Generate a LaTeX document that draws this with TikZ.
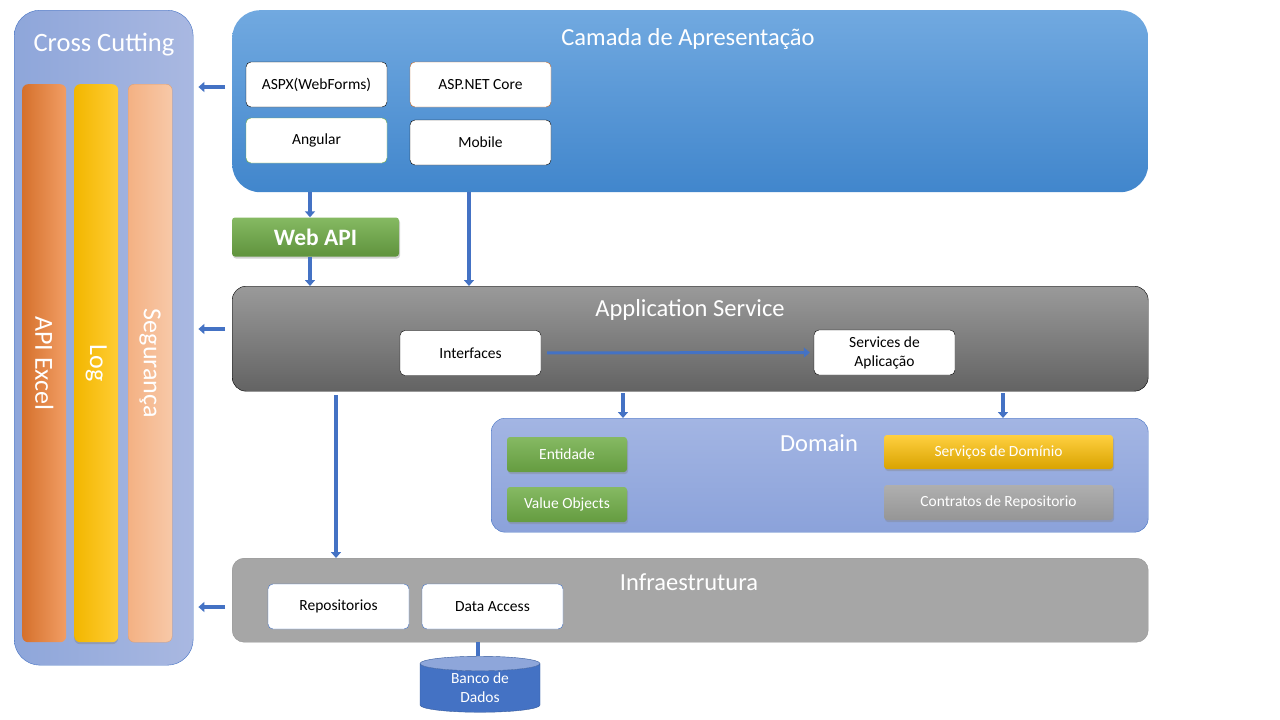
\documentclass[tikz,border=0pt]{standalone}
\usepackage{fontspec}
\setmainfont{Carlito}
\usetikzlibrary{calc, shapes.geometric, arrows.meta, positioning, shadows}
\definecolor{arqblue}{HTML}{4472C4}
\definecolor{ccleft}{HTML}{8EA6DA}
\definecolor{ccright}{HTML}{A9B8E1}
\definecolor{camtop}{HTML}{71A9E0}
\definecolor{cambot}{HTML}{4186CC}
\definecolor{apptop}{HTML}{9A9A9A}
\definecolor{appbot}{HTML}{636363}
\definecolor{domtop}{HTML}{A3B5E3}
\definecolor{dombot}{HTML}{8BA2DA}
\definecolor{infragray}{HTML}{A6A6A6}
\definecolor{boxgreen}{HTML}{70AD47}
\definecolor{boxorange}{HTML}{ED7D31}
\definecolor{boxyellow}{HTML}{FFC000}
\definecolor{boxsalmon}{HTML}{F4B183}

\begin{document}
\begin{tikzpicture}[x=1pt, y=-1pt,
    layer/.style={anchor=north west, inner sep=0pt},
    title/.style={text=white, font=\fontsize{24.5}{28}\selectfont},
    box/.style={draw=black, fill=white, rounded corners=5pt, minimum width=141pt,
        minimum height=45pt, align=center, font=\fontsize{15.5}{18}\selectfont},
    solid/.style={rounded corners=3pt, text=white, align=center,
        font=\fontsize{15.5}{18}\selectfont,
        drop shadow={opacity=0.35, shadow xshift=1pt, shadow yshift=-2pt}},
    colbar/.style={layer, minimum width=44pt, minimum height=558pt, rounded corners=6pt},
    coltext/.style={text=white, rotate=-90, font=\fontsize{26}{30}\selectfont},
    flow/.style={draw=arqblue, line width=3.6pt, -{Triangle[width=10pt,length=6pt]}}]

    % page
    \fill[white] (0,0) rectangle (1280,720);
    \useasboundingbox (0,0) rectangle (1280,720);

    % Cross Cutting
    \node[layer, minimum width=179pt, minimum height=655pt, rounded corners=26pt,
        draw=arqblue, left color=ccleft, right color=ccright] (cross) at (14,10) {};
    \node[title, font=\fontsize{26.5}{30}\selectfont] (crosstitle) at (104,45) {Cross Cutting};
    \node[colbar, left color=boxorange!90!black, right color=boxorange!75!white] (excel) at (22,84) {};
    \node[colbar, left color=boxyellow!95!black, right color=boxyellow!80!white,
        drop shadow={opacity=0.4, shadow xshift=0pt, shadow yshift=-2pt}] (log) at (74,84) {};
    \node[colbar, draw=boxsalmon!90!black, left color=boxsalmon, right color=boxsalmon!70!white] (seg) at (128,84) {};
    \node[coltext] (exceltext) at (excel.center) {API Excel};
    \node[coltext] (logtext) at (log.center) {Log};
    \node[coltext] (segtext) at (seg.center) {Segurança};

    % Camada de Apresentacao
    \node[layer, minimum width=916pt, minimum height=182pt, rounded corners=28pt,
        top color=camtop, bottom color=cambot] (cam) at (232,10) {};
    \node[title] (camtitle) at (688,39) {Camada de Apresentação};
    \node[box] (aspx) at (316.5,84.5) {ASPX(WebForms)};
    \node[box, draw=boxorange!80!black] (core) at (480.5,84.5) {ASP.NET Core};
    \node[box, draw=boxgreen] (angular) at (316.5,140.5) {Angular};
    \node[box] (mobile) at (480.5,142.5) {Mobile};

    % Web API
    \node[solid, minimum width=167pt, minimum height=39pt, top color=boxgreen!85!white,
        bottom color=boxgreen!85!black, font=\fontsize{23.5}{26}\selectfont\bfseries] (webapi) at (315.5,237) {Web API};

    % Application Service
    \node[layer, minimum width=916pt, minimum height=105pt, rounded corners=14pt,
        draw=black, top color=apptop, bottom color=appbot] (app) at (232,286) {};
    \node[title] (apptitle) at (690,310) {Application Service};
    \node[box] (intf) at (470.5,353) {Interfaces};
    \node[box, font=\fontsize{15.5}{19}\selectfont] (svc) at (884.5,352.5) {Services de\\Aplicação};

    % Domain
    \node[layer, minimum width=657pt, minimum height=114pt, rounded corners=14pt,
        draw=arqblue, top color=domtop, bottom color=dombot] (dom) at (491,418) {};
    \node[title] (domtitle) at (819,443) {Domain};
    \node[solid, minimum width=120pt, minimum height=35pt, top color=boxgreen!85!white,
        bottom color=boxgreen!90!black] (ent) at (567,454.5) {Entidade};
    \node[solid, minimum width=120pt, minimum height=35pt, top color=boxgreen!85!white,
        bottom color=boxgreen!90!black] (vo) at (567,504.5) {Value Objects};
    \node[solid, minimum width=229pt, minimum height=34pt, top color=boxyellow!75!white,
        bottom color=boxyellow!85!black] (servdom) at (998.5,452) {Serviços de Domínio};
    \node[solid, minimum width=229pt, minimum height=35pt, top color=infragray!90!white,
        bottom color=infragray!90!black] (contr) at (998.5,502.5) {Contratos de Repositorio};

    % Infraestrutura
    \node[layer, minimum width=916pt, minimum height=84pt, rounded corners=12pt,
        draw=infragray!90!black, fill=infragray] (infra) at (232,558) {};
    \node[title] (infratitle) at (689,582) {Infraestrutura};
    \node[box, draw=arqblue] (repo) at (338.5,606.5) {Repositorios};
    \node[box, draw=arqblue] (data) at (492.5,606.5) {Data Access};

    % Banco de Dados
    \node[cylinder, shape border rotate=90, aspect=0.25, draw=arqblue!80!black,
        cylinder uses custom fill, cylinder body fill=arqblue, cylinder end fill=ccleft,
        minimum width=120pt, minimum height=56pt, inner sep=0pt, text=white, align=center,
        font=\fontsize{15.5}{19}\selectfont] (banco) at (480,688) {Banco de\\Dados};

    % connectors
    \draw[flow, shorten <=7pt, shorten >=5pt] (cam.west |- 0,87) -- (cross.east |- 0,87);
    \draw[flow, shorten <=7pt, shorten >=5pt] (app.west |- 0,329) -- (cross.east |- 0,329);
    \draw[flow, shorten <=7pt, shorten >=5pt] (infra.west |- 0,607) -- (cross.east |- 0,607);
    \draw[flow] (cam.south -| 310,0) -- (webapi.north -| 310,0);
    \draw[flow] (webapi.south -| 310,0) -- (app.north -| 310,0);
    \draw[flow] (cam.south -| 469,0) -- (app.north -| 469,0);
    \draw[flow, line width=3pt, shorten <=6pt, shorten >=4pt] (intf.east) -- (svc.west);
    \draw[flow, shorten <=2pt] (app.south -| 623,0) -- (dom.north -| 623,0);
    \draw[flow, shorten <=2pt] (app.south -| 1003,0) -- (dom.north -| 1003,0);
    \draw[flow, shorten <=4pt] (app.south -| 336,0) -- (infra.north -| 336,0);
    \draw[draw=arqblue, line width=3.6pt] (infra.south -| 478,0) -- (banco.north -| 478,0);
\end{tikzpicture}
\end{document}
